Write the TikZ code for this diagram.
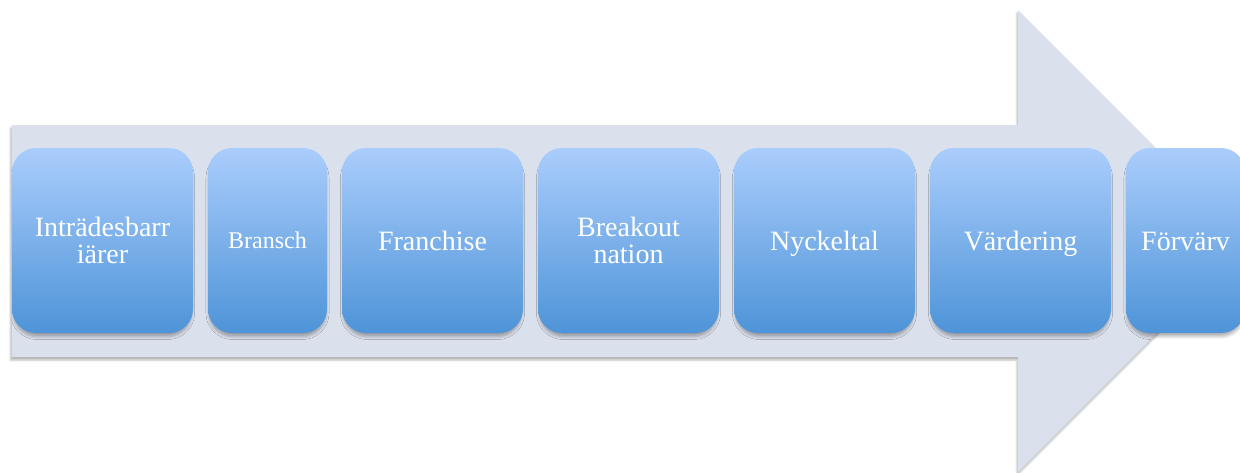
\documentclass[tikz,border=0pt]{standalone}
\usepackage{fontspec}
\setmainfont{Liberation Serif}
\usepackage{tikz}
\usetikzlibrary{positioning, shadows.blur}
\definecolor{arrowfill}{RGB}{218, 224, 236}
\definecolor{stagetop}{RGB}{170, 205, 252}
\definecolor{stagebottom}{RGB}{78, 148, 216}

\begin{document}
\begin{tikzpicture}[x=0.5pt, y=-0.5pt,
  stage/.style={rounded corners=12pt, minimum width=90.5pt, minimum height=92.5pt,
    top color=stagetop, bottom color=stagebottom, text=white, align=center,
    font=\fontsize{14pt}{13.5pt}\selectfont, inner sep=0pt, outer sep=0pt,
    blur shadow={shadow xshift=0pt, shadow yshift=-2.5pt, shadow scale=0.985,
      shadow blur radius=1.5pt, shadow opacity=30}},
  oneline/.style={text height=12.6pt, text depth=3.1pt},
  narrow/.style={minimum width=59.5pt}]
\useasboundingbox (0,0) rectangle (1240,472);
% the big arrow behind the stages
\fill[arrowfill, blur shadow={shadow xshift=-0.5pt, shadow yshift=-1.5pt, shadow blur radius=1pt, shadow opacity=30}]
  (11.5,125) -- (1018,125) -- (1018,10) -- (1249,241) -- (1018,472) -- (1018,357) -- (11.5,357) -- cycle;
% stages
\node[stage] (barriers) at (102.5,240.5) {Inträdesbarr\\iärer};
\node[stage, narrow, font=\fontsize{12pt}{13pt}\selectfont, text height=10.5pt, text depth=3pt,
  right=7.5pt of barriers] (industry) {Bransch};
\node[stage, oneline, right=7.5pt of industry] (franchise) {Franchise};
\node[stage, right=7.5pt of franchise] (breakout) {Breakout\\nation};
\node[stage, oneline, right=7.5pt of breakout] (keyfigures) {Nyckeltal};
\node[stage, oneline, right=7.5pt of keyfigures] (valuation) {Värdering};
\node[stage, oneline, narrow, right=7.5pt of valuation] (acquisition) {Förvärv};
\end{tikzpicture}
\end{document}
